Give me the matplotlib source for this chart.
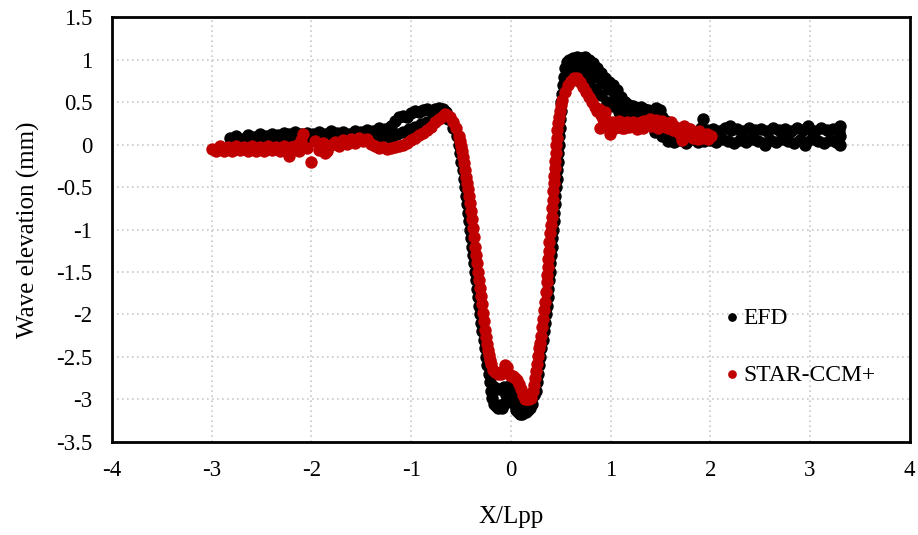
import matplotlib
matplotlib.use("Agg")
import matplotlib.pyplot as plt

plt.rcParams['font.family'] = ['Liberation Serif', 'DejaVu Serif']

# EFD (measured) points
efd_x = [
    # flat part upstream
    -2.82, -2.79, -2.76, -2.73, -2.70, -2.67, -2.64, -2.61, -2.58, -2.55, -2.52, -2.49,
    -2.46, -2.43, -2.40, -2.37, -2.34, -2.31, -2.28, -2.25, -2.22, -2.19, -2.16, -2.13,
    -2.10, -2.07, -2.04, -2.01, -1.98, -1.95, -1.92, -1.89, -1.86, -1.83, -1.80, -1.77,
    -1.74, -1.71, -1.68, -1.65, -1.62, -1.59, -1.56, -1.53, -1.50, -1.47, -1.44, -1.41,
    -1.38, -1.35, -1.32, -1.29, -1.26, -1.23,
    # bow crest
    -1.20, -1.16, -1.12, -1.08, -1.04, -1.00, -0.96, -0.92, -0.88, -0.84, -0.80, -0.76,
    -0.72, -0.68, -0.65,
    -1.20, -1.14, -1.08, -1.02, -0.96, -0.90, -0.84, -0.78, -0.72, -0.66,
    # drop into the trough
    -0.63, -0.58, -0.545, -0.525, -0.515, -0.50, -0.485, -0.475, -0.46, -0.445, -0.435,
    -0.425, -0.415, -0.405, -0.395, -0.385, -0.375, -0.365, -0.355, -0.345, -0.335,
    -0.325, -0.315, -0.305, -0.295, -0.285, -0.27, -0.26, -0.25, -0.235, -0.22, -0.21,
    -0.20,
    # trough
    -0.19, -0.17, -0.15, -0.13, -0.11, -0.09, -0.07, -0.05, -0.03, -0.01, 0.01,
    0.03, 0.05, 0.07, 0.09, 0.11, 0.13, 0.15, 0.17, 0.19, 0.21, 0.23,
    -0.17, -0.12, -0.07, 0.00, 0.06, 0.12, 0.18,
    # rise to stern crest
    0.25, 0.26, 0.27, 0.285, 0.295, 0.305, 0.32, 0.33, 0.34, 0.35, 0.36, 0.37, 0.375,
    0.383, 0.39, 0.397, 0.403, 0.41, 0.415, 0.42, 0.428, 0.435, 0.44, 0.447, 0.452,
    0.458, 0.463, 0.468, 0.473, 0.478, 0.483, 0.49, 0.495, 0.50, 0.505, 0.51, 0.52,
    0.53, 0.545, 0.565,
    # stern crest
    0.58, 0.62, 0.66, 0.70, 0.74, 0.78, 0.82, 0.86, 0.90, 0.94, 0.98, 1.02, 1.06, 1.10,
    1.14, 1.18, 1.22, 1.26, 1.30, 1.34, 1.38, 1.42, 1.46, 1.50,
    0.62, 0.68, 0.74, 0.80, 0.86, 0.92, 0.98, 1.04, 1.10, 1.16, 1.22, 1.28, 1.34, 1.40,
    1.46, 1.52, 1.56, 1.60,
    0.60, 0.66, 0.72, 0.78, 0.84, 0.90, 0.96, 1.02, 1.08, 1.14, 1.20, 1.26, 1.32, 1.38,
    1.44, 1.50, 1.45, 1.52, 1.58,
    # flat part downstream
    1.55, 1.58, 1.61, 1.64, 1.67, 1.70, 1.73, 1.76, 1.79, 1.82, 1.85, 1.88, 1.91, 1.94,
    1.97, 2.00, 2.03, 2.06, 2.09, 2.12, 2.15, 2.18, 2.21, 2.24, 2.27, 2.30, 2.33, 2.36,
    2.39, 2.42, 2.45, 2.48, 2.51, 2.54, 2.57, 2.60, 2.63, 2.66, 2.69, 2.72, 2.75, 2.78,
    2.81, 2.84, 2.87, 2.90, 2.93, 2.96, 2.99, 3.02, 3.05, 3.08, 3.11, 3.14, 3.17, 3.20,
    3.23, 3.26, 3.29,
    1.93, 2.20, 2.55, 2.95, 2.98, 3.30, 3.30, 3.30,
]
efd_y = [
    0.08, 0.02, 0.10, 0.03, 0.07, 0.01, 0.11, 0.03, 0.09, 0.02, 0.12, 0.04,
    0.10, 0.02, 0.13, 0.04, 0.11, 0.03, 0.14, 0.05, 0.12, 0.03, 0.15, 0.04,
    0.13, 0.05, 0.14, 0.04, 0.12, 0.05, 0.15, 0.06, 0.13, 0.05, 0.16, 0.06,
    0.14, 0.07, 0.15, 0.06, 0.13, 0.07, 0.16, 0.08, 0.15, 0.07, 0.17, 0.08,
    0.16, 0.09, 0.19, 0.10, 0.18, 0.11,
    0.22, 0.28, 0.33, 0.34, 0.33, 0.37, 0.40, 0.38, 0.41, 0.42, 0.40, 0.42,
    0.43, 0.42, 0.38,
    0.08, 0.12, 0.15, 0.18, 0.21, 0.24, 0.27, 0.30, 0.32, 0.32,
    0.30, 0.20, 0.10, 0.00, -0.10, -0.20, -0.30, -0.40, -0.50, -0.60, -0.70,
    -0.80, -0.90, -1.00, -1.10, -1.20, -1.30, -1.40, -1.50, -1.60, -1.70,
    -1.80, -1.90, -2.00, -2.10, -2.20, -2.30, -2.40, -2.50, -2.60, -2.70, -2.80,
    -2.90,
    -2.98, -3.05, -3.08, -3.10, -3.07, -3.10, -3.05, -2.95, -3.00, -2.90, -2.95,
    -3.05, -3.12, -3.15, -3.17, -3.17, -3.15, -3.15, -3.12, -3.10, -3.05, -2.95,
    -2.85, -2.88, -2.85, -2.82, -2.92, -3.02, -2.95,
    -2.90, -2.80, -2.70, -2.60, -2.50, -2.40, -2.30, -2.20, -2.10, -2.00, -1.90, -1.80,
    -1.70, -1.60, -1.50, -1.40, -1.30, -1.20, -1.10, -1.00, -0.90, -0.80, -0.70, -0.60,
    -0.50, -0.40, -0.30, -0.20, -0.10, 0.00, 0.10, 0.20, 0.30, 0.40, 0.50, 0.60, 0.70,
    0.80, 0.90, 0.97,
    1.00, 1.02, 1.03, 1.02, 1.03, 1.00, 0.96, 0.90, 0.84, 0.78, 0.74, 0.70, 0.64, 0.56,
    0.50, 0.47, 0.45, 0.43, 0.44, 0.42, 0.41, 0.40, 0.43, 0.41,
    0.95, 0.95, 0.93, 0.88, 0.80, 0.72, 0.65, 0.58, 0.50, 0.42, 0.38, 0.37, 0.37, 0.35,
    0.35, 0.33, 0.28, 0.22,
    0.85, 0.88, 0.85, 0.75, 0.65, 0.58, 0.50, 0.45, 0.38, 0.35, 0.32, 0.30, 0.33, 0.30,
    0.28, 0.28, 0.15, 0.10, 0.05,
    0.18, 0.04, 0.16, 0.03, 0.19, 0.05, 0.17, 0.02, 0.18, 0.06, 0.15, 0.03, 0.19, 0.04,
    0.17, 0.05, 0.18, 0.03, 0.16, 0.06, 0.19, 0.04, 0.17, 0.02, 0.18, 0.05, 0.16, 0.03,
    0.19, 0.06, 0.17, 0.04, 0.18, 0.02, 0.16, 0.05, 0.19, 0.03, 0.17, 0.06, 0.18, 0.04,
    0.16, 0.02, 0.19, 0.05, 0.17, 0.03, 0.18, 0.06, 0.16, 0.04, 0.19, 0.02, 0.17, 0.05,
    0.18, 0.03, 0.16,
    0.30, 0.22, 0.00, 0.00, 0.22, 0.22, 0.10, 0.00,
]

# STAR-CCM+ (computed) points
cfd_x = [
    -3.00, -2.96, -2.92, -2.88, -2.84, -2.80, -2.76, -2.72, -2.68, -2.64, -2.60, -2.56,
    -2.52, -2.48, -2.44, -2.40, -2.36, -2.32, -2.28, -2.24, -2.20,
    -2.16, -2.12, -2.08, -2.04, -2.00, -1.96, -1.92, -1.88, -1.84, -1.80, -1.76, -1.72,
    -1.68, -1.64, -1.60, -1.56, -1.52, -1.48, -1.44, -1.40, -1.36, -1.32, -1.28, -1.24,
    -1.20, -1.16, -1.12, -1.08, -1.04, -1.00, -0.96, -0.92, -0.88, -0.84, -0.80, -0.76,
    -0.72, -0.68, -2.22, -1.86, -2.10,
    # drop into the trough
    -0.66, -0.64, -0.61, -0.58, -0.55, -0.52, -0.51, -0.50, -0.49, -0.48, -0.47, -0.46,
    -0.45, -0.44, -0.43, -0.42, -0.41, -0.40, -0.39, -0.38, -0.37, -0.36, -0.35, -0.34,
    -0.33, -0.32, -0.31, -0.30, -0.29, -0.28, -0.27, -0.26, -0.25, -0.24, -0.23, -0.22,
    -0.21, -0.20, -0.18, -0.16,
    # trough
    -0.13, -0.10, -0.08, -0.06, -0.04, -0.02, 0.00, 0.02, 0.04, 0.06, 0.08, 0.10,
    0.12, 0.14, 0.16, 0.18, 0.20,
    # rise
    0.22, 0.23, 0.24, 0.25, 0.26, 0.27, 0.28, 0.29, 0.30, 0.31, 0.32, 0.33, 0.34, 0.35,
    0.36, 0.365, 0.37, 0.375, 0.38, 0.385, 0.39, 0.40, 0.41, 0.415, 0.42, 0.425, 0.43,
    0.435, 0.44, 0.445, 0.45, 0.455, 0.46, 0.465, 0.47, 0.48, 0.49, 0.50, 0.51,
    # stern crest
    0.54, 0.57, 0.60, 0.63, 0.66, 0.69, 0.72, 0.75, 0.78, 0.81,
    0.84, 0.86, 0.88, 0.90, 0.92, 0.94, 0.96, 0.98, 1.00, 1.02, 1.05, 1.08,
    1.10, 1.13, 1.16, 1.19, 1.22, 1.25, 1.28, 1.31, 1.34, 1.37, 1.40, 1.43,
    1.46, 1.49, 1.52, 1.55, 1.58, 1.61, 1.64, 1.67, 1.70, 1.72, 1.74, 1.77,
    1.80, 1.83, 1.86, 1.89, 1.92, 1.95, 1.98, 2.01, 0.89, 0.99,
    1.04, 1.11, 1.18, 1.26, 1.33, 1.41, 1.48, 1.56, 1.63, 1.68, 1.79, 1.88, 1.97,
]
cfd_y = [
    -0.05, -0.08, -0.02, -0.07, -0.03, -0.08, -0.02, -0.06, -0.03, -0.08, -0.02, -0.07,
    -0.03, -0.08, -0.02, -0.06, -0.03, -0.08, -0.02, -0.07, -0.03,
    -0.02, -0.08, 0.12, -0.04, -0.20, 0.04, -0.06, 0.02, -0.08, -0.01, 0.03, -0.02,
    0.05, 0.01, 0.06, 0.02, 0.08, 0.04, 0.07, 0.01, -0.02, -0.04, -0.03, -0.05,
    -0.04, -0.03, -0.02, 0.00, 0.02, 0.05, 0.08, 0.11, 0.14, 0.17, 0.21, 0.26,
    0.30, 0.34, -0.14, -0.10, 0.05,
    0.36, 0.35, 0.32, 0.27, 0.20, 0.10, 0.04, -0.02, -0.08, -0.15, -0.22, -0.30,
    -0.38, -0.45, -0.52, -0.60, -0.69, -0.78, -0.88, -0.98, -1.09, -1.20, -1.30, -1.40,
    -1.50, -1.60, -1.69, -1.78, -1.88, -1.98, -2.08, -2.18, -2.27, -2.35, -2.42, -2.48,
    -2.53, -2.58, -2.65, -2.68,
    -2.70, -2.70, -2.66, -2.60, -2.62, -2.70, -2.72, -2.72, -2.75, -2.77, -2.82, -2.88,
    -2.95, -2.99, -3.00, -3.00, -2.98,
    -2.90, -2.83, -2.75, -2.67, -2.58, -2.49, -2.40, -2.33, -2.25, -2.15, -2.05, -1.95,
    -1.85, -1.74, -1.62, -1.53, -1.44, -1.35, -1.25, -1.15, -1.04, -0.95, -0.85, -0.75,
    -0.65, -0.55, -0.45, -0.37, -0.28, -0.19, -0.10, -0.01, 0.08, 0.17, 0.25, 0.33,
    0.40, 0.46, 0.52,
    0.62, 0.70, 0.75, 0.78, 0.78, 0.74, 0.68, 0.62, 0.56, 0.50,
    0.44, 0.40, 0.42, 0.35, 0.30, 0.38, 0.28, 0.22, 0.17, 0.26, 0.22, 0.28,
    0.24, 0.20, 0.26, 0.22, 0.27, 0.23, 0.20, 0.26, 0.28, 0.24, 0.30, 0.26,
    0.29, 0.24, 0.28, 0.25, 0.20, 0.26, 0.22, 0.18, 0.12, 0.05, 0.22, 0.10,
    0.18, 0.08, 0.12, 0.16, 0.08, 0.11, 0.07, 0.10, 0.20, 0.13,
    0.20, 0.19, 0.21, 0.18, 0.20, 0.22, 0.19, 0.21, 0.17, 0.15, 0.14, 0.06, 0.12,
]

fig = plt.figure(figsize=(9.18, 5.35), dpi=100)
ax = fig.add_axes([0.122, 0.174, 0.869, 0.794])

ax.scatter(efd_x, efd_y, s=80, color='black', linewidths=0, label='EFD', zorder=3)
ax.scatter(cfd_x, cfd_y, s=80, color='#C00000', linewidths=0, label='STAR-CCM+', zorder=4)

ax.set_xlim(-4, 4)
ax.set_ylim(-3.5, 1.5)
ax.set_xticks([-4, -3, -2, -1, 0, 1, 2, 3, 4])
ax.set_yticks([-3.5, -3, -2.5, -2, -1.5, -1, -0.5, 0, 0.5, 1, 1.5])
ax.set_xticklabels(['-4', '-3', '-2', '-1', '0', '1', '2', '3', '4'])
ax.set_yticklabels(['-3.5', '-3', '-2.5', '-2', '-1.5', '-1', '-0.5', '0', '0.5', '1', '1.5'])
ax.tick_params(length=0, labelsize=16.5)
ax.tick_params(axis='y', pad=14)
ax.tick_params(axis='x', pad=13)
ax.grid(True, color='#c8c8c8', linestyle=(0, (1, 2)), linewidth=1.2)
ax.set_axisbelow(True)
for sp in ax.spines.values():
    sp.set_linewidth(2)

ax.set_xlabel('X/Lpp', fontsize=18, labelpad=18)
ax.set_ylabel('Wave elevation (mm)', fontsize=18, labelpad=12)

ax.legend(loc='center left', bbox_to_anchor=(0.747, 0.225), frameon=False, fontsize=17,
          markerscale=0.7, handletextpad=0.0, handlelength=1.0, labelspacing=1.5,
          borderpad=0)

fig.savefig('out.png', dpi=100)
